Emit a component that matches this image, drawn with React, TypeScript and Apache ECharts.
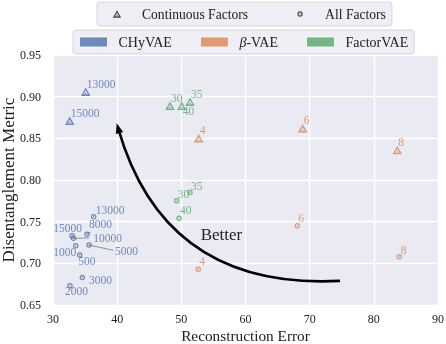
import React, { useEffect, useRef } from "react";
import * as echarts from "echarts";

// ---------- data ----------
type Pt = [number, number, string];
const chyvaeContinuous: Pt[] = [
  [35.1, 0.906, "13000"],
  [32.6, 0.871, "15000"],
];
const chyvaeAll: Pt[] = [
  [36.34, 0.756, "13000"],
  [35.3, 0.735, "8000"],
  [32.96, 0.733, "15000"],
  [33.19, 0.73, "10000"],
  [33.54, 0.721, "1000"],
  [34.16, 0.71, "500"],
  [35.61, 0.722, "5000"],
  [34.57, 0.683, "3000"],
  [32.65, 0.673, "2000"],
];
const betaContinuous: Pt[] = [
  [52.71, 0.85, "4"],
  [68.91, 0.862, "6"],
  [83.66, 0.836, "8"],
];
const betaAll: Pt[] = [
  [52.64, 0.693, "4"],
  [68.07, 0.745, "6"],
  [83.97, 0.708, "8"],
];
const factorContinuous: Pt[] = [
  [48.23, 0.889, "30"],
  [51.35, 0.894, "35"],
  [50.06, 0.889, "40"],
];
const factorAll: Pt[] = [
  [49.28, 0.775, "30"],
  [51.35, 0.785, "35"],
  [49.64, 0.754, "40"],
];
// connector lines from points to moved labels
const connectors: [number, number][][] = [
  [[33.19, 0.73], [35.6, 0.7305]],
  [[35.61, 0.722], [39.4, 0.7156]],
  [[35.3, 0.735], [35.87, 0.7376]],
];
// arrow: tail, control, head (data coords)
const arrowTail = [74.73, 0.679];
const arrowCtrl = [47.45, 0.668];
const arrowHead = [39.93, 0.868];
const betterPos = [53.02, 0.7352];

const xTicks = { min: 30, max: 90, step: 10 };
const yTicks = { min: 0.65, max: 0.95, step: 0.05 };

// ---------- styles ----------
const FONT = "Liberation Serif";
const COLORS: Record<string, string> = {
  CHyVAE: "#4c72b0",
  "β-VAE": "#dd8452",
  FactorVAE: "#55a868",
};
const TRI =
  "path://M5,0L10,9L0,9Z M5,3.0L2.6,7.3L7.4,7.3Z M5,5.0L6.1,6.9L3.9,6.9Z";
const CIRC =
  "path://M0,5A5,5,0,1,1,10,5A5,5,0,1,1,0,5Z M2.2,5A2.8,2.8,0,1,0,7.8,5A2.8,2.8,0,1,0,2.2,5Z M3.8,5A1.2,1.2,0,1,1,6.2,5A1.2,1.2,0,1,1,3.8,5Z";
// legend icons padded into a 28x8 box so they sit at the box centre
const TRI_LEGEND =
  "path://M0,0M28,8M14,0.2L18.2,7.8L9.8,7.8Z M14,2.7L12,6.3L16,6.3Z M14,4.4L14.9,5.8L13.1,5.8Z";
const CIRC_LEGEND =
  "path://M0,0M28,8M11.3,4A2.7,2.7,0,1,1,16.7,4A2.7,2.7,0,1,1,11.3,4Z M12.5,4A1.5,1.5,0,1,0,15.5,4A1.5,1.5,0,1,0,12.5,4Z M13.4,4A0.6,0.6,0,1,1,14.6,4A0.6,0.6,0,1,1,13.4,4Z";

const labelOffsets: Record<string, Record<string, [number, number]>> = {
  chyAll: {
    "13000": [2, -7],
    "8000": [2, -10.3],
    "15000": [-18.7, -7.7],
    "10000": [19.8, -0.8],
    "1000": [-22.4, 6.6],
    "500": [-1.4, 6.4],
    "5000": [26, 6],
    "3000": [6.7, 2.3],
    "2000": [-5, 5.5],
  },
  factorCont: { "40": [1, 5.5] },
  factorAll: { "35": [1, -7], "30": [1, -7], "40": [1, -8] },
  betaAll: { "8": [1.5, -7] },
};

function items(pts: Pt[], kind: "tri" | "circ", color: string, offKey?: string) {
  return pts.map((p) => {
    const off = (offKey && labelOffsets[offKey] && labelOffsets[offKey][p[2]]) || [1, -8];
    return {
      value: [p[0], p[1]],
      name: p[2],
      symbol: kind === "tri" ? TRI : CIRC,
      symbolSize: kind === "tri" ? [9.5, 8.5] : 5.5,
      label: {
        show: true,
        formatter: "{b}",
        position: "inside",
        align: "left",
        verticalAlign: "middle",
        offset: off,
        color,
        fontSize: 11.5,
        fontFamily: FONT,
      },
    };
  });
}

export default function App() {
  const ref = useRef<HTMLDivElement>(null);
  useEffect(() => {
    if (!ref.current) return;
    const chart = echarts.init(ref.current, undefined, { renderer: "svg" });
    const mkSeries = (name: string, cont: Pt[], all: Pt[], contKey?: string, allKey?: string) => ({
      type: "scatter",
      name,
      z: 3,
      itemStyle: { color: COLORS[name] },
      data: [
        ...items(cont, "tri", COLORS[name], contKey),
        ...items(all, "circ", COLORS[name], allKey),
      ],
    });
    const legendBase = {
      selectedMode: false,
      itemWidth: 28,
      padding: [5, 6, 5, 6],
      backgroundColor: "#eeeef4",
      borderColor: "#d6d6de",
      borderWidth: 1,
      borderRadius: 3,
    };
    const option: any = {
      animation: false,
      grid: {
        left: 53,
        right: 8,
        top: 55,
        bottom: 39,
        show: true,
        backgroundColor: "#eaeaf2",
        borderWidth: 0,
        containLabel: false,
        outerBoundsMode: "none",
      },
      legend: [
        {
          ...legendBase,
          left: 97,
          top: 2,
          itemHeight: 8,
          itemGap: 38,
          textStyle: { fontFamily: FONT, fontSize: 13.6, color: "#222", padding: [0, 0, 0, 6] },
          data: [
            { name: "Continuous Factors", icon: TRI_LEGEND, itemStyle: { color: "#222" } },
            { name: "All Factors", icon: CIRC_LEGEND, itemStyle: { color: "#222" } },
          ],
        },
        {
          ...legendBase,
          left: 73,
          top: 30,
          itemHeight: 10,
          itemGap: 28,
          textStyle: {
            fontFamily: FONT,
            fontSize: 14,
            color: "#222",
            padding: [0, 0, 0, 6],
            rich: { i: { fontFamily: FONT, fontSize: 14, fontStyle: "italic", color: "#222" } },
          },
          formatter: (n: string) => (n === "β-VAE" ? "{i|β}-VAE" : n),
          data: ["CHyVAE", "β-VAE", "FactorVAE"].map((n) => ({
            name: n,
            icon: "rect",
            itemStyle: { color: COLORS[n], borderColor: "#ffffff", borderWidth: 1 },
          })),
        },
      ],
      xAxis: {
        type: "value",
        min: xTicks.min,
        max: xTicks.max,
        interval: xTicks.step,
        axisLine: { show: false },
        axisTick: { show: false },
        splitLine: { lineStyle: { color: "#ffffff", width: 1.4 } },
        axisLabel: { fontFamily: FONT, fontSize: 12, color: "#222", margin: 8 },
        name: "Reconstruction Error",
        nameLocation: "middle",
        nameGap: 22,
        nameMoveOverlap: false,
        nameTextStyle: { fontFamily: FONT, fontSize: 15.3, lineHeight: 17, color: "#222" },
      },
      yAxis: {
        type: "value",
        min: yTicks.min,
        max: yTicks.max,
        interval: yTicks.step,
        axisLine: { show: false },
        axisTick: { show: false },
        splitLine: { lineStyle: { color: "#ffffff", width: 1.4 } },
        axisLabel: {
          fontFamily: FONT,
          fontSize: 12,
          color: "#222",
          margin: 12,
          showMinLabel: true,
          showMaxLabel: true,
          formatter: (v: number) => v.toFixed(2),
        },
        name: "Disentanglement Metric",
        nameLocation: "middle",
        nameGap: 36,
        nameMoveOverlap: false,
        nameTextStyle: { fontFamily: FONT, fontSize: 17, color: "#222" },
      },
      series: [
        { type: "scatter", name: "Continuous Factors", data: [], itemStyle: { color: "#222" } },
        { type: "scatter", name: "All Factors", data: [], itemStyle: { color: "#222" } },
        {
          type: "lines",
          coordinateSystem: "cartesian2d",
          silent: true,
          z: 2,
          lineStyle: { color: "#777777", width: 0.8, opacity: 1 },
          data: connectors.map((c) => ({ coords: c })),
        },
        mkSeries("CHyVAE", chyvaeContinuous, chyvaeAll, undefined, "chyAll"),
        mkSeries("β-VAE", betaContinuous, betaAll, undefined, "betaAll"),
        mkSeries("FactorVAE", factorContinuous, factorAll, "factorCont", "factorAll"),
        {
          type: "custom",
          coordinateSystem: "cartesian2d",
          silent: true,
          clip: false,
          z: 4,
          data: [[arrowTail[0], arrowTail[1], arrowCtrl[0], arrowCtrl[1], arrowHead[0], arrowHead[1], betterPos[0], betterPos[1]]],
          renderItem: (_params: any, api: any) => {
            const p0 = api.coord([api.value(0), api.value(1)]);
            const c = api.coord([api.value(2), api.value(3)]);
            const p2 = api.coord([api.value(4), api.value(5)]);
            const bt = api.coord([api.value(6), api.value(7)]);
            const dx = p2[0] - c[0];
            const dy = p2[1] - c[1];
            const len = Math.hypot(dx, dy);
            const ux = dx / len;
            const uy = dy / len;
            const hl = 10;
            const hw = 3.8;
            const base = [p2[0] - ux * hl, p2[1] - uy * hl];
            const end = [p2[0] - ux * hl * 0.6, p2[1] - uy * hl * 0.6];
            return {
              type: "group",
              children: [
                {
                  type: "bezierCurve",
                  shape: { x1: p0[0], y1: p0[1], x2: end[0], y2: end[1], cpx1: c[0], cpy1: c[1] },
                  style: { stroke: "#000", lineWidth: 2.6, fill: null },
                },
                {
                  type: "polygon",
                  shape: {
                    points: [
                      [p2[0], p2[1]],
                      [base[0] - uy * hw, base[1] + ux * hw],
                      [base[0] + uy * hw, base[1] - ux * hw],
                    ],
                  },
                  style: { fill: "#000" },
                },
                {
                  type: "text",
                  x: bt[0],
                  y: bt[1],
                  style: {
                    text: "Better",
                    fontFamily: FONT,
                    fontSize: 17,
                    fill: "#222",
                    align: "left",
                    verticalAlign: "middle",
                  },
                },
              ],
            };
          },
        },
      ],
    };
    chart.setOption(option);
    return () => chart.dispose();
  }, []);
  return (
    <div
      ref={ref}
      style={{ position: "fixed", left: 0, top: 0, width: 446, height: 344 }}
    />
  );
}
